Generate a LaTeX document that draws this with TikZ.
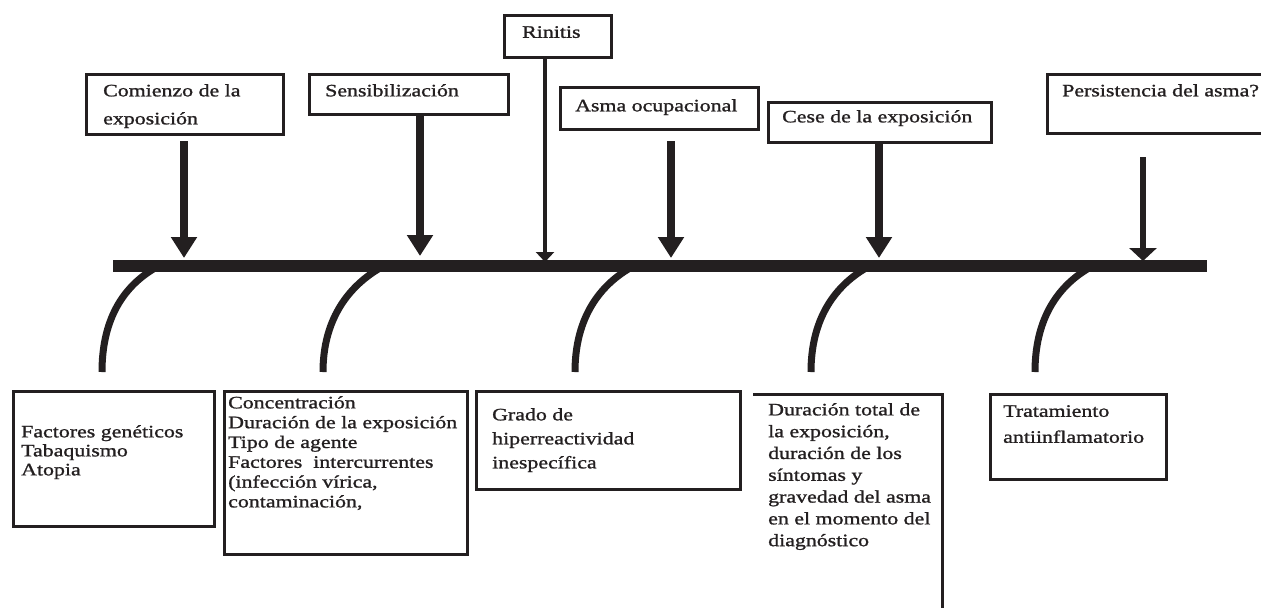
\documentclass[tikz,border=0pt]{standalone}
\usepackage{fontspec}
\setmainfont{Liberation Serif}[FakeStretch=1.25, FakeBold=1.2]
\usetikzlibrary{arrows.meta}
\definecolor{ink}{RGB}{35,31,32}
\tikzset{
  frame/.style={draw=ink, line width=3pt, inner sep=0pt, anchor=north west},
  openframe/.style={draw=none, inner sep=0pt, anchor=north west},
  lbl/.style={text=ink, align=left, inner sep=0pt, anchor=north west},
  spine/.style={draw=ink, line width=12pt},
  branch/.style={draw=ink, line width=7pt},
  heavy/.style={draw=ink, line width=8.5pt, -{Triangle[width=25pt,length=21pt]}},
  slim/.style={draw=ink, line width=4pt, -{Triangle[width=18pt,length=10pt]}},
  wide/.style={draw=ink, line width=6.5pt, -{Triangle[width=27pt,length=13pt]}},
}
\newcommand{\fs}[1]{\fontsize{17.5}{#1}\selectfont}
\begin{document}
\begin{tikzpicture}[x=1pt, y=-1pt]
\useasboundingbox (0,0) rectangle (1261,611);
\clip (0,0) rectangle (1261,611);

% timeline spine
\coordinate (spineL) at (113,266);
\coordinate (spineR) at (1207,266);
\draw[spine] (spineL) -- (spineR);

% stage boxes above the spine
\node[frame, minimum width=197pt, minimum height=60pt] (t1) at (85,73) {};
\node[frame, minimum width=199pt, minimum height=40pt] (t2) at (308,73) {};
\node[frame, minimum width=107pt, minimum height=42pt] (t3) at (503,14) {};
\node[frame, minimum width=198pt, minimum height=42pt] (t4) at (559,86) {};
\node[frame, minimum width=223pt, minimum height=40pt] (t5) at (767,101) {};
\node[frame, minimum width=240pt, minimum height=59pt] (t6) at (1046,73) {};

\node[lbl, font=\fs{28}] (t1txt) at (103,84) {Comienzo de la\\exposición};
\node[lbl, font=\fs{20}] (t2txt) at (325,84) {Sensibilización};
\node[lbl, font=\fs{20}] (t3txt) at (522,26) {Rinitis};
\node[lbl, font=\fs{20}] (t4txt) at (575,99) {Asma ocupacional};
\node[lbl, font=\fs{20}] (t5txt) at (782,110) {Cese de la exposición};
\node[lbl, font=\fs{20}] (t6txt) at (1062,84) {Persistencia del asma?};

% arrow ends on the spine
\coordinate (a1) at (184,258);
\coordinate (a2) at (420,256);
\coordinate (a3) at (545,262);
\coordinate (a4) at (671,258);
\coordinate (a5) at (879,258);
\coordinate (a6) at (1143,261);

\draw[heavy] ([yshift=-5pt]t1.south -| a1) -- (a1);
\draw[heavy] (t2.south -| a2) -- (a2);
\draw[slim]  (t3.south -| a3) -- (a3);
\draw[heavy] ([yshift=-10pt]t4.south -| a4) -- (a4);
\draw[heavy] (t5.south -| a5) -- (a5);
\draw[wide]  ([yshift=-22pt]t6.south -| a6) -- (a6);

% factor boxes below the spine
\node[frame, minimum width=201pt, minimum height=135pt] (b1) at (12,390) {};
\node[frame, minimum width=243pt, minimum height=163pt] (b2) at (223,390) {};
\node[frame, minimum width=264pt, minimum height=98pt] (b3) at (475,390) {};
\node[openframe, minimum width=189pt, minimum height=214pt] (b4) at (753,394) {};
\draw[ink, line width=3pt] (b4.north west) -| (b4.south east);
\node[frame, minimum width=176pt, minimum height=85pt] (b5) at (989,393) {};

\node[lbl, font=\fs{19}] (b1txt) at (21,425) {Factores genéticos\\Tabaquismo\\Atopia};
\node[lbl, font=\fs{19.8}] (b2txt) at (228,396) {Concentración\\Duración de la exposición\\Tipo de agente\\Factores\ \ intercurrentes\\(infección vírica,\\contaminación,};
\node[lbl, font=\fs{24}] (b3txt) at (492,408) {Grado de\\hiperreactividad\\inespecífica};
\node[lbl, font=\fs{21.8}] (b4txt) at (768,403) {Duración total de\\la exposición,\\duración de los\\síntomas y\\gravedad del asma\\en el momento del\\diagnóstico};
\node[lbl, font=\fs{26}] (b5txt) at (1003,405) {Tratamiento\\antiinflamatorio};

% curved branches from the spine towards the factor boxes
\foreach \i/\xt/\xb in {1/155/102, 2/380/323, 3/630/575, 4/866/811, 5/1089/1035}{
  \coordinate (c\i t) at (\xt,268);
  \coordinate (c\i b) at (\xb,372);
  \draw[branch] (c\i t) .. controls +(-34,20) and +(0,-50) .. (c\i b);
}
\end{tikzpicture}
\end{document}
